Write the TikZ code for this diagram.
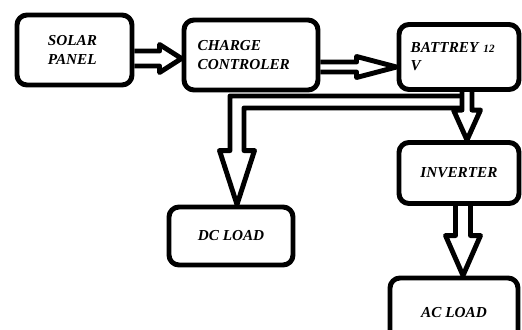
\documentclass[tikz,border=0pt]{standalone}
\usepackage{fontspec}
\setmainfont{Liberation Serif}
\usetikzlibrary{calc}
\tikzset{
    block/.style={draw, line width=4.2pt, rounded corners=0.3cm, align=left,
        font=\fontsize{13}{15.5}\selectfont\bfseries\itshape},
    hollow/.style={draw, line width=4.2pt, line join=round},
    % shaft half width, head half width, head length (all in px)
    right arrow/.style n args={3}{to path={
        ($(\tikztostart)+(0,-#1)$) -- ($(\tikztostart -| \tikztotarget)+(-#3,-#1)$)
        -- ($(\tikztostart -| \tikztotarget)+(-#3,-#2)$) -- (\tikztostart -| \tikztotarget)
        -- ($(\tikztostart -| \tikztotarget)+(-#3,#2)$) -- ($(\tikztostart -| \tikztotarget)+(-#3,#1)$)
        -- ($(\tikztostart)+(0,#1)$)}},
    down arrow/.style n args={3}{to path={
        ($(\tikztostart)+(-#1,0)$) -- ($(\tikztostart |- \tikztotarget)+(-#1,-#3)$)
        -- ($(\tikztostart |- \tikztotarget)+(-#2,-#3)$) -- (\tikztostart |- \tikztotarget)
        -- ($(\tikztostart |- \tikztotarget)+(#2,-#3)$) -- ($(\tikztostart |- \tikztotarget)+(#1,-#3)$)
        -- ($(\tikztostart)+(#1,0)$)}},
    % band half width, shaft half width, head half width, head length
    branch arrow/.style n args={4}{to path={
        ($(\tikztostart)+(0,-#1)$) -- ($(\tikztotarget |- \tikztostart)+(-#2,-#1)$)
        -- ($(\tikztotarget)+(-#2,-#4)$) -- ($(\tikztotarget)+(-#3,-#4)$) -- (\tikztotarget)
        -- ($(\tikztotarget)+(#3,-#4)$) -- ($(\tikztotarget)+(#2,-#4)$)
        -- ($(\tikztotarget |- \tikztostart)+(#2,#1)$) -- ($(\tikztostart)+(0,#1)$)}},
}

\begin{document}
\begin{tikzpicture}[x=0.03cm, y=-0.03cm]
\clip (0,0) rectangle (522,329);

\node[block, minimum width=3.45cm, minimum height=2.1cm, text width=1.6cm] (solar) at (74.5,50) {SOLAR\\PANEL};
\node[block, minimum width=4.02cm, minimum height=2.1cm, text width=3.2cm] (charge) at (251,55) {CHARGE\\CONTROLER};
\node[block, minimum width=3.6cm, minimum height=1.95cm, text width=2.9cm] (battery) at (459,57) {BATTREY {\fontsize{9.5}{9.5}\selectfont 12}\\V};
\node[block, minimum width=3.6cm, minimum height=1.83cm] (inverter) at (459,173) {INVERTER};
\node[block, minimum width=3.72cm, minimum height=1.74cm] (dcload) at (231,236) {DC LOAD};
\node[block, minimum width=3.84cm, minimum height=2.1cm] (acload) at (454,313) {AC LOAD};

\coordinate (solarout) at ($(solar.east)+(0,8.5)$);
\coordinate (chargeout) at ($(charge.east)+(0,12)$);
\coordinate (batteryout) at ($(battery.south)+(8,0)$);
\coordinate (split) at ($(batteryout)+(-5,10)$);
\coordinate (dcin) at ($(dcload.north)+(6,0)$);
\coordinate (inverterout) at ($(inverter.south)+(4,0)$);

\draw[hollow] (solarout) to[right arrow={7.5}{14}{22}] (charge.west);
\draw[hollow] (chargeout) to[right arrow={5}{10.5}{40}] (battery.west);
\draw[hollow] (batteryout) to[down arrow={5}{13.5}{30}] (inverter.north);
\draw[hollow] (split) to[branch arrow={6}{7}{17.5}{54}] (dcin);
\draw[hollow] (inverterout) to[down arrow={7.5}{17.5}{40}] (acload.north);
\end{tikzpicture}
\end{document}
